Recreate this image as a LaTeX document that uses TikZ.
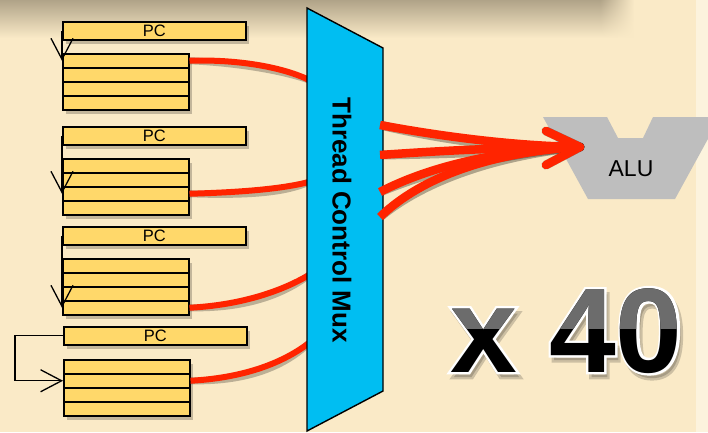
\documentclass[tikz,border=0pt]{standalone}
\usepackage{fontspec}
\setmainfont{Liberation Sans}
\newfontface\bigout{Liberation Sans Bold}[FakeBold=4]
\usetikzlibrary{arrows.meta,shadows,fadings}
\definecolor{cream}{RGB}{250,234,199}
\definecolor{topshade}{RGB}{176,163,136}
\definecolor{boxy}{RGB}{255,216,106}
\definecolor{muxc}{RGB}{0,190,242}
\definecolor{wirec}{RGB}{255,36,0}
\definecolor{alug}{RGB}{190,190,190}
\definecolor{digitgray}{RGB}{108,108,108}
\newcommand\bigglyph[4]{%
  \node[bigo, text=black, opacity=.18, shift={(3,5)}] (#1s) at (#2,#3) {#4};
  \node[bigo, text=white] (#1o) at (#2,#3) {#4};
  \node[bigf, text=black] (#1) at (#2,#3) {#4};
  \begin{scope}
    \clip (#2-10,250) rectangle (#2+200,328);
    \node[bigf, text=digitgray] (#1g) at (#2,#3) {#4};
  \end{scope}
}
\begin{document}
\begin{tikzpicture}[x=1pt,y=-1pt,
  bshadow/.style={drop shadow={shadow xshift=3pt, shadow yshift=-4pt, opacity=0.22, fill=black}},
  pcbox/.style={draw, line width=1.5pt, fill=boxy, minimum width=183pt, minimum height=18pt,
    inner sep=0pt, anchor=north west, font=\fontsize{16.5}{16.5}\selectfont, bshadow},
  row/.style={draw, line width=1.5pt, fill=boxy, minimum width=126pt, minimum height=14pt,
    inner sep=0pt, anchor=north west, bshadow},
  ptr/.style={line width=1.3pt, -{Straight Barb[length=21pt, width=22pt]}},
  wire/.style={wirec, line width=6pt},
  wsh/.style={black, opacity=0.25, line width=7pt, shift={(2,4)}},
  bigwire/.style={wirec, line width=8.5pt, line cap=round, line join=round},
  bigsh/.style={black, opacity=0.3, line width=9pt, line cap=round, line join=round, shift={(2,4)}},
  bigf/.style={font=\fontsize{120}{120}\selectfont\bfseries, anchor=base west, inner sep=0pt},
  bigo/.style={font=\fontsize{120}{120}\bigout, anchor=base west, inner sep=0pt},
  lbl/.style={font=\fontsize{23}{23}\selectfont}
]
\useasboundingbox (0,0) rectangle (708,432);
\fill[cream] (0,0) rectangle (708,432);
\fill[cream!60!white] (696,0) rectangle (708,432);
\shade[top color=topshade, bottom color=cream] (0,0) rectangle (600,38);
\shade[top color=topshade, bottom color=cream, path fading=east] (600,0) rectangle (634,38);

% mux geometry
\coordinate (mtl) at (307,8);
\coordinate (mtr) at (383,48);
\coordinate (mbr) at (383,391);
\coordinate (mbl) at (307,431);
\coordinate (ml1) at (309,80);
\coordinate (ml2) at (309,182);
\coordinate (ml3) at (309,275);
\coordinate (ml4) at (309,343);
\coordinate (mr1) at (380,125);
\coordinate (mr2) at (380,155);
\coordinate (mr3) at (380,192);
\coordinate (mr4) at (380,217);
\coordinate (tip) at (580,147);

% ALU
\fill[alug] (543,117) -- (607,117) -- (618,138) -- (643,138) -- (653,117) -- (720,117)
  -- (675,199) -- (588,199) -- cycle;
\node[lbl] (alu) at (631,169) {ALU};

% group 1
\node[pcbox] (pc1) at (62,21) {PC};
\node[row] (g1r1) at (62,53) {};
\node[row] (g1r2) at (62,67) {};
\node[row] (g1r3) at (62,81) {};
\node[row] (g1r4) at (62,95) {};
% group 2
\node[pcbox] (pc2) at (62,126) {PC};
\node[row] (g2r1) at (62,158) {};
\node[row] (g2r2) at (62,172) {};
\node[row] (g2r3) at (62,186) {};
\node[row] (g2r4) at (62,200) {};
% group 3
\node[pcbox] (pc3) at (62,226) {PC};
\node[row] (g3r1) at (62,258) {};
\node[row] (g3r2) at (62,272) {};
\node[row] (g3r3) at (62,286) {};
\node[row] (g3r4) at (62,300) {};
% group 4
\node[pcbox] (pc4) at (63,326) {PC};
\node[row] (g4r1) at (63,359) {};
\node[row] (g4r2) at (63,373) {};
\node[row] (g4r3) at (63,387) {};
\node[row] (g4r4) at (63,401) {};

% PC pointers
\draw[ptr] (pc1.west) -- (g1r1.west);
\draw[ptr] (pc2.west) -- (g2r3.west);
\draw[ptr] (pc3.west) -- (g3r4.west);
\draw[ptr] (pc4.west) -- ++(-48,0) |- (g4r2.west);

% left wires
\draw[wsh] (g1r1.east) .. controls (240,59) and (285,68) .. (ml1);
\draw[wsh] (g2r3.east) .. controls (250,192) and (285,188) .. (ml2);
\draw[wsh] (g3r4.east) .. controls (240,305) and (280,292) .. (ml3);
\draw[wsh] (g4r2.east) .. controls (240,378) and (280,365) .. (ml4);
\draw[wire] (g1r1.east) .. controls (240,59) and (285,68) .. (ml1);
\draw[wire] (g2r3.east) .. controls (250,192) and (285,188) .. (ml2);
\draw[wire] (g3r4.east) .. controls (240,305) and (280,292) .. (ml3);
\draw[wire] (g4r2.east) .. controls (240,378) and (280,365) .. (ml4);

% right wires shadow
\draw[bigsh] (mr1) .. controls (450,138) and (520,146) .. (tip);
\draw[bigsh] (mr2) .. controls (450,150) and (520,147) .. (tip);
\draw[bigsh] (mr3) .. controls (430,166) and (500,150) .. (tip);
\draw[bigsh] (mr4) .. controls (420,178) and (490,152) .. (tip);
\draw[bigsh] (tip) ++(-34,-16) -- (tip) -- ++(-34,18);

% mux
\draw[fill=muxc, line width=1.4pt] (mtl) -- (mtr) -- (mbr) -- (mbl) -- cycle;
\node[rotate=-90, font=\fontsize{26}{26}\selectfont\bfseries] (muxlabel) at (342,220) {Thread Control Mux};

% right wires
\draw[bigwire, line cap=butt] (mr1) .. controls (450,138) and (520,146) .. (tip);
\draw[bigwire, line cap=butt] (mr2) .. controls (450,150) and (520,147) .. (tip);
\draw[bigwire, line cap=butt] (mr3) .. controls (430,166) and (500,150) .. (tip);
\draw[bigwire, line cap=butt] (mr4) .. controls (420,178) and (490,152) .. (tip);
\draw[bigwire] (tip) ++(-34,-16) -- (tip) -- ++(-34,18);

% x 40
\bigglyph{times}{450}{372}{x}
\bigglyph{forty}{549}{372}{40}
\end{tikzpicture}
\end{document}
